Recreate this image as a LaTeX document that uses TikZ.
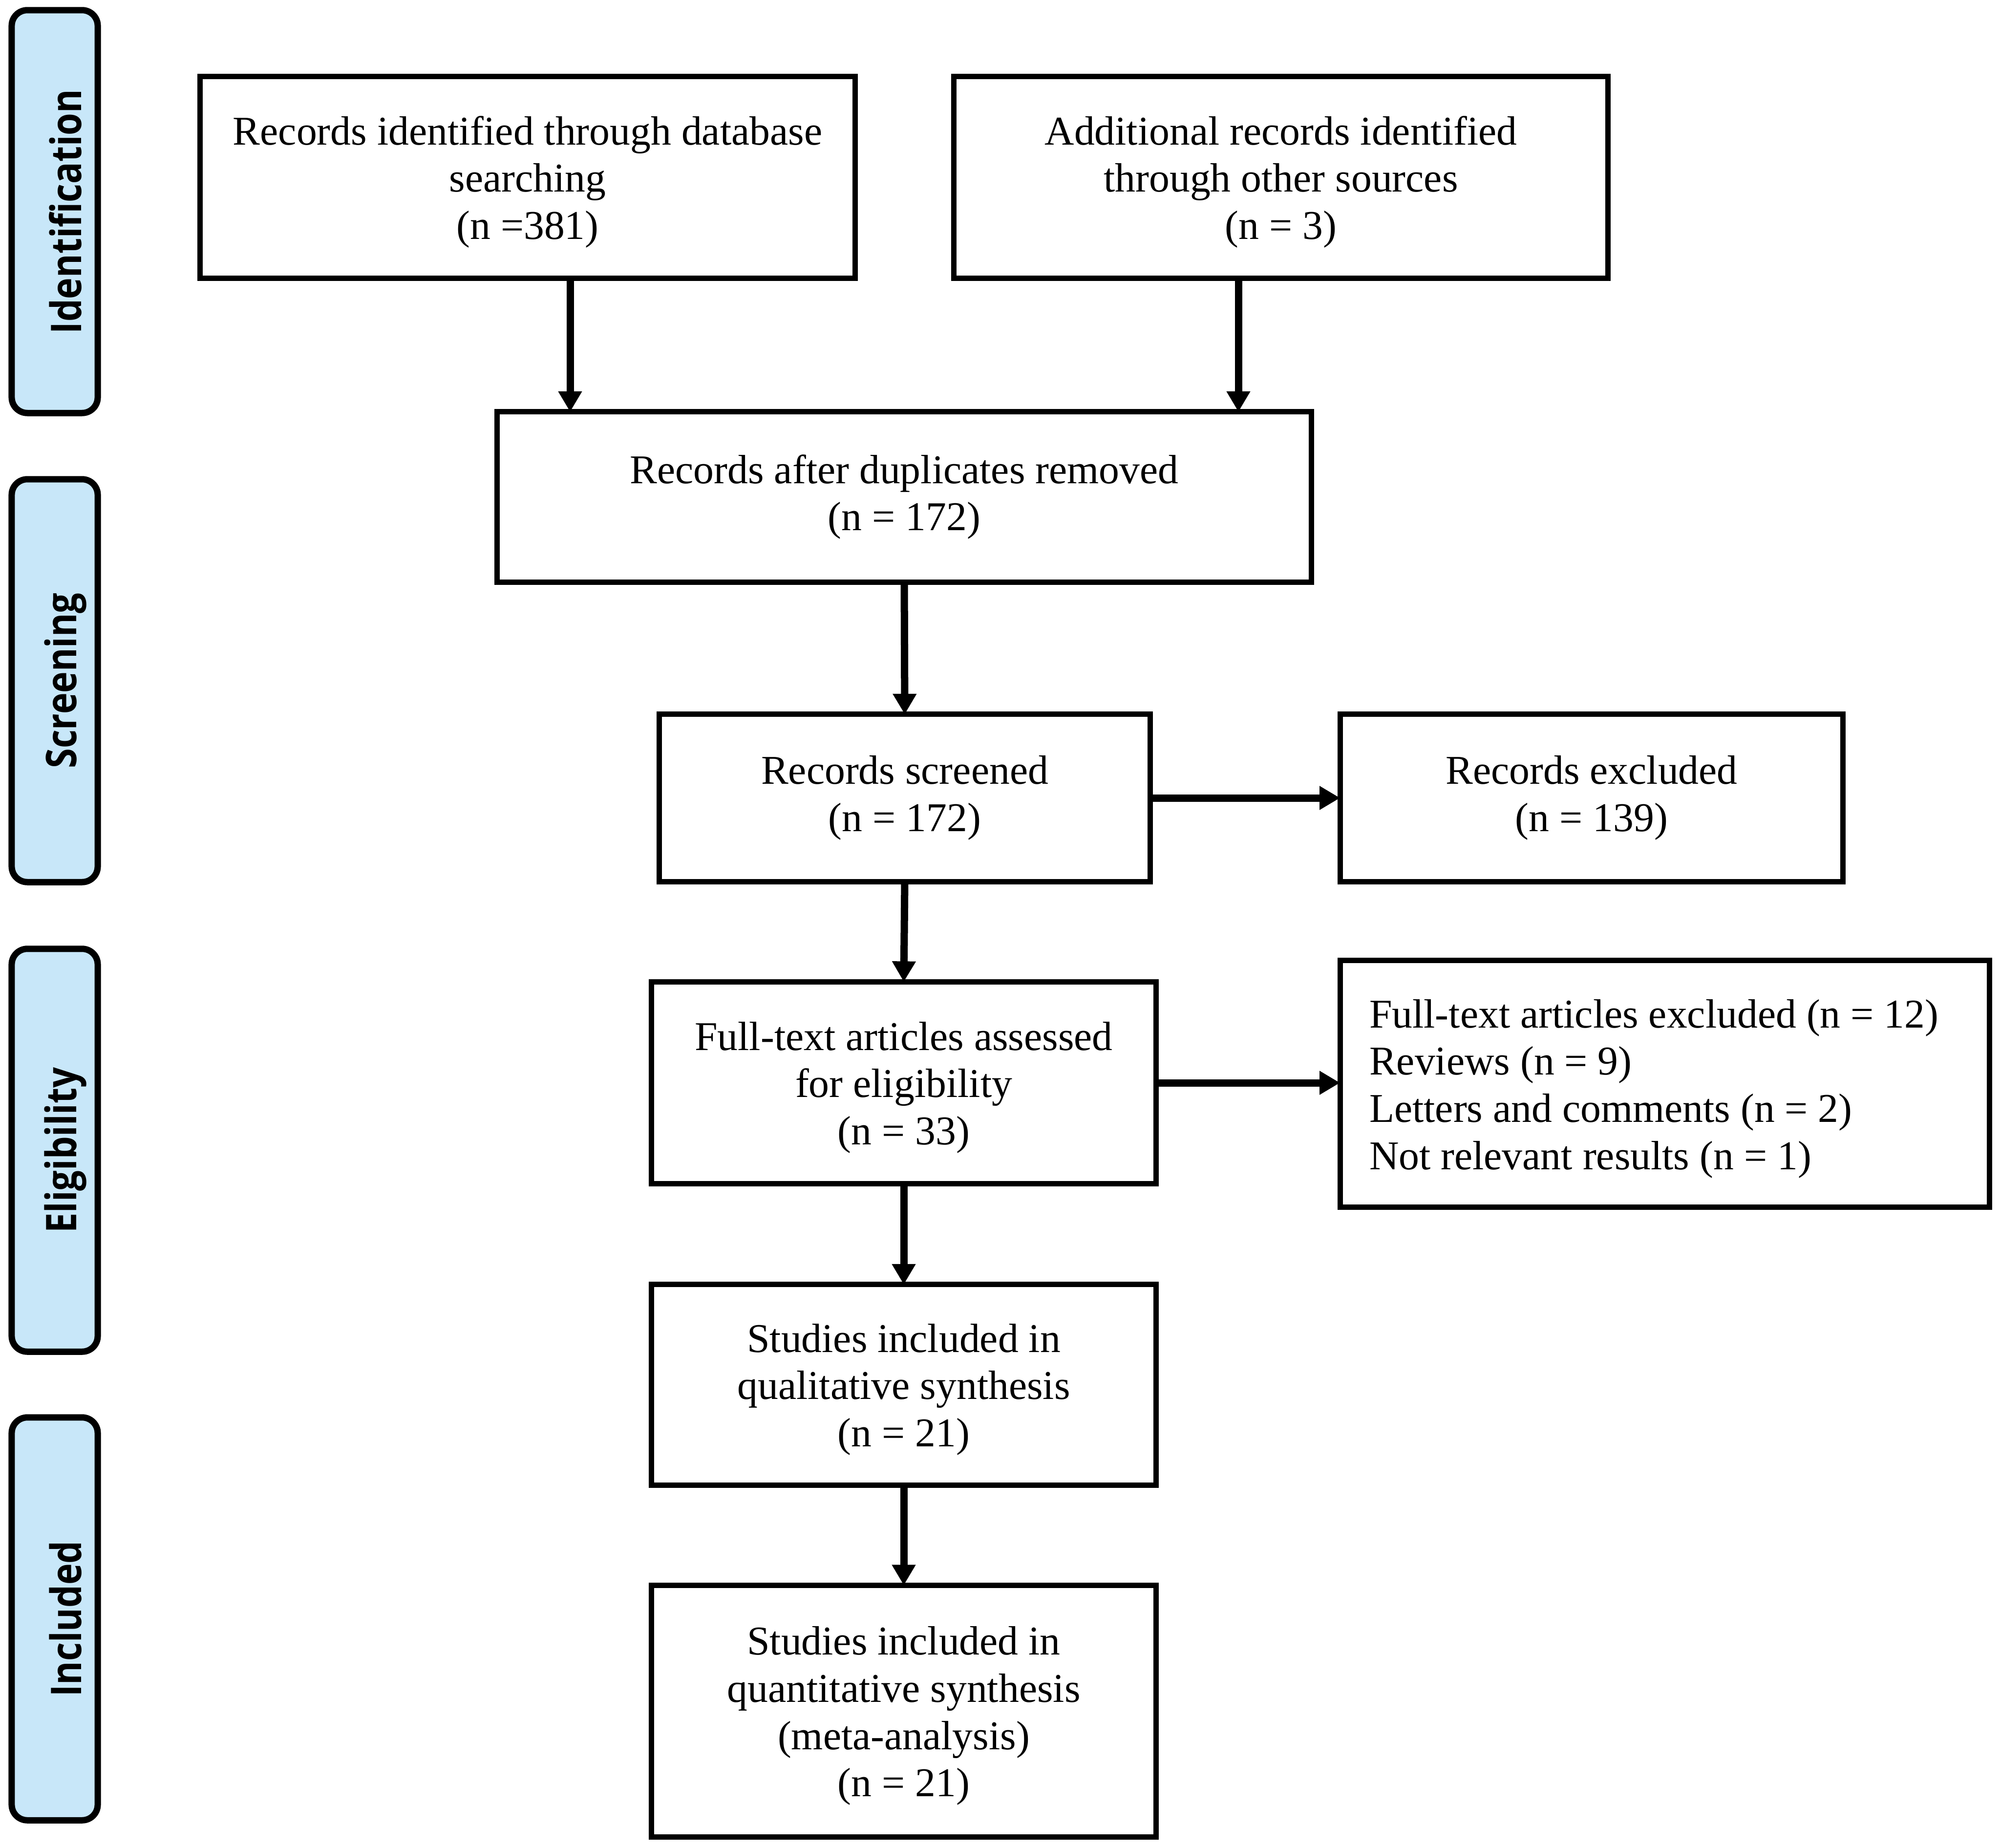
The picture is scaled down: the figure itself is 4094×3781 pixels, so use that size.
\documentclass[tikz,border=0pt]{standalone}
\usepackage{fontspec}
\setmainfont{Liberation Serif}
\newfontfamily\bandfont{Open Sans}
\usetikzlibrary{arrows.meta}
\definecolor{bandblue}{RGB}{200,231,249}
\newcommand\topfix{\rule{0pt}{22pt}}
\tikzset{
  boxfont/.style={font=\fontsize{23.8}{27.5}\selectfont},
  box/.style={draw=black, line width=0.11cm, fill=white, inner sep=0pt, outer sep=0pt,
    align=center, boxfont},
  listtext/.style={inner sep=0pt, outer sep=0pt, align=left, anchor=west, boxfont},
  band/.style={draw=black, line width=0.13cm, fill=bandblue, rounded corners=0.32cm,
    inner sep=0pt, outer sep=0pt, minimum width=1.76cm, minimum height=8.24cm},
  bandtext/.style={rotate=90, inner sep=0pt, font=\bandfont\bfseries\fontsize{21}{25}\selectfont},
  arr/.style={line width=0.15cm, -{Triangle[length=0.42cm, width=0.46cm]}}
}
\begin{document}
\begin{tikzpicture}[x=0.01cm, y=-0.01cm]
\useasboundingbox (0,0) rectangle (4094,3781);
% phase bands
\node[band] (bid) at (112,433) {};
\node[band] (bsc) at (112,1393) {};
\node[band] (bel) at (112,2354) {};
\node[band] (bin) at (112,3313) {};
\node[bandtext] (tid) at (134,433) {\scalebox{1}[1.17]{Identification}};
\node[bandtext] (tsc) at (134,1393) {\scalebox{1}[1.17]{Screening}};
\node[bandtext] (tel) at (134,2354) {\scalebox{1}[1.17]{Eligibility}};
\node[bandtext] (tin) at (134,3313) {\scalebox{1}[1.17]{Included}};
% boxes
\node[box, minimum width=13.40cm, minimum height=4.12cm] (b1) at (1080,363)
  {\topfix Records identified through database\\searching\\(n =381)};
\node[box, minimum width=13.39cm, minimum height=4.12cm] (b2) at (2622,363)
  {\topfix Additional records identified\\through other sources\\(n = 3)};
\node[box, minimum width=16.66cm, minimum height=3.48cm] (b3) at (1851,1017)
  {Records after duplicates removed\\(n = 172)};
\node[box, minimum width=10.05cm, minimum height=3.42cm] (b4) at (1852,1633)
  {Records screened\\(n = 172)};
\node[box, minimum width=10.29cm, minimum height=3.42cm] (b5) at (3258,1633)
  {Records excluded\\(n = 139)};
\node[box, minimum width=10.32cm, minimum height=4.13cm] (b6) at (1850,2216)
  {\topfix Full-text articles assessed\\for eligibility\\(n = 33)};
\node[box, minimum width=13.29cm, minimum height=5.04cm] (b7) at (3408,2218) {};
\node[listtext] (b7t) at (2803,2228)
  {Full-text articles excluded (n = 12)\\Reviews (n = 9)\\Letters and comments (n = 2)\\Not relevant results (n = 1)};
\node[box, minimum width=10.32cm, minimum height=4.10cm] (b8) at (1850,2834)
  {\topfix Studies included in\\qualitative synthesis\\(n = 21)};
\node[box, minimum width=10.32cm, minimum height=5.15cm] (b9) at (1850,3502)
  {\topfix Studies included in\\quantitative synthesis\\(meta-analysis)\\(n = 21)};
% arrows
\coordinate (xa) at (1167,0);
\coordinate (xb) at (2535,0);
\draw[arr] (b1.south -| xa) -- (b3.north -| xa);
\draw[arr] (b2.south -| xb) -- (b3.north -| xb);
\draw[arr] (b3.south) -- (b4.north);
\draw[arr] (b4.east) -- (b5.west);
\draw[arr] (b4.south) -- (b6.north);
\draw[arr] (b6.east) -- (b6.east -| b7.west);
\draw[arr] (b6.south) -- (b8.north);
\draw[arr] (b8.south) -- (b9.north);
\end{tikzpicture}
\end{document}
